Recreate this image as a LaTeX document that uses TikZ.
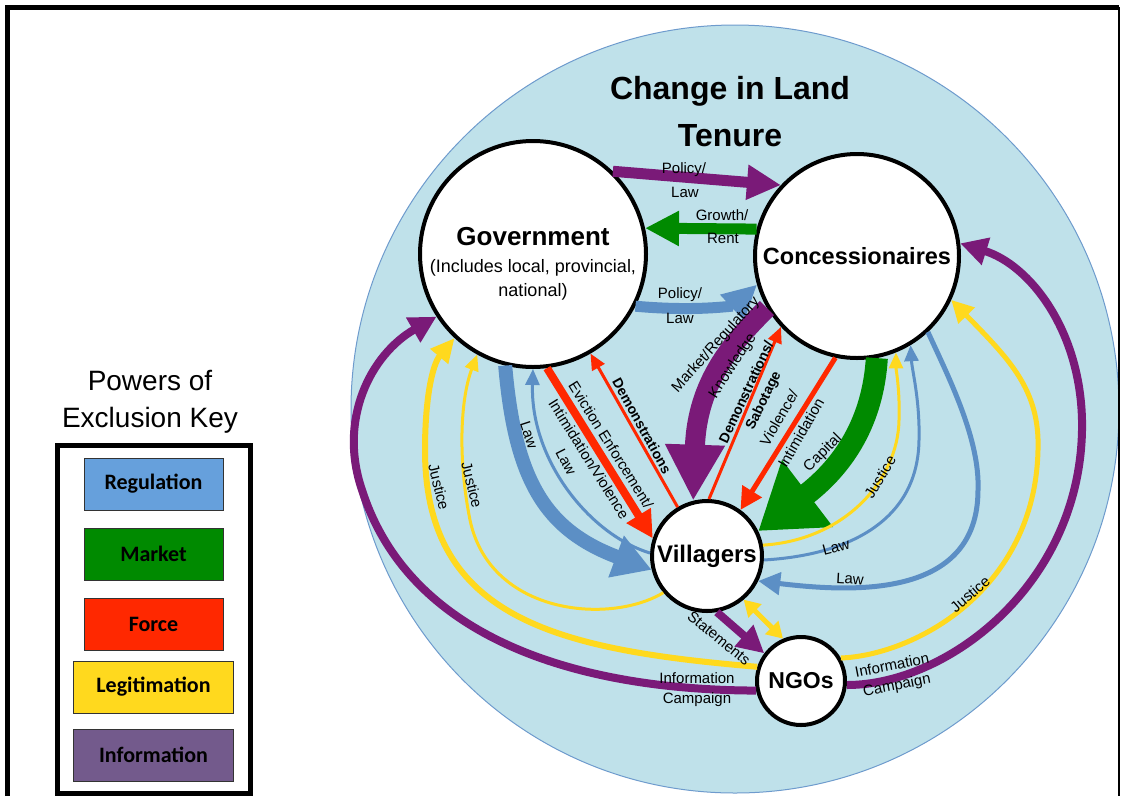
\documentclass[tikz,border=0pt]{standalone}
\usepackage{fontspec}
\setmainfont{Liberation Sans}
\newfontfamily\keyfont{Carlito}
\usetikzlibrary{arrows.meta, positioning, fit}
\usepackage{xcolor}

\definecolor{landblue}{RGB}{191,225,234}
\definecolor{landedge}{RGB}{110,155,205}
\definecolor{regblue}{RGB}{92,143,197}
\definecolor{keyblue}{RGB}{102,160,220}
\definecolor{marketgreen}{RGB}{0,138,0}
\definecolor{forcered}{RGB}{255,40,0}
\definecolor{legityellow}{RGB}{255,217,30}
\definecolor{infopurple}{RGB}{122,26,120}
\definecolor{keypurple}{RGB}{115,90,140}

\begin{document}
\begin{tikzpicture}[x=1pt, y=-1pt,
                actor/.style={circle, draw=black, line width=4pt, fill=white, inner sep=0pt, align=center},
                keybox/.style={rectangle, draw=black!80, line width=1pt, minimum width=139pt, minimum height=52pt, font=\keyfont\bfseries\fontsize{22}{22}\selectfont},
                lbl/.style={inner sep=0pt, font=\fontsize{15}{15}\selectfont},
                lblb/.style={inner sep=0pt, font=\bfseries\fontsize{14}{14}\selectfont},
                thinflow/.style={line width=3pt, -{Triangle[width=14pt,length=16pt]}},
                midflow/.style={line width=5pt, -{Triangle[width=22pt,length=22pt]}},
                wideflow/.style={line width=8pt, -{Triangle[width=27pt,length=27pt]}},
                broadflow/.style={line width=11pt, -{Triangle[width=33pt,length=34pt]}}]

            \useasboundingbox (0,0) rectangle (1122,796);
            \node[circle, fill=landblue, draw=landedge, line width=1pt, minimum size=768pt, inner sep=0pt] (land) at (735,409) {};
            \draw[line width=5pt] (7,796) -- (7,7) -- (1119,7);
            \draw[line width=1.5pt] (1119,7) -- (1119,796);

            \node[align=center, font=\bfseries\fontsize{32}{47}\selectfont] (title) at (730,112) {Change in Land\\Tenure};

            \node[actor, minimum size=226pt, font=\fontsize{18}{24}\selectfont] (gov) at (533,254) {{\bfseries\fontsize{26}{30}\selectfont\rule{0pt}{37pt}Government}\\[3pt](Includes local, provincial,\\national)};
            \node[actor, minimum size=204pt, font=\bfseries\fontsize{23.5}{28}\selectfont] (conc) at (857,256) {Concessionaires};
            \node[actor, minimum size=110pt, font=\bfseries\fontsize{24}{28}\selectfont] (vil) at (707,556) {Villagers};
            \node[actor, minimum size=88pt, font=\bfseries\fontsize{23}{28}\selectfont] (ngo) at (801,681) {NGOs};

            % Legend
            \node[align=center, font=\fontsize{28}{37}\selectfont] (keytitle) at (150,402) {Powers of\\Exclusion Key};
            \node[keybox, fill=keyblue] (reg) at (153.5,484) {Regulation};
            \node[keybox, fill=marketgreen, below=17pt of reg] (market) {Market};
            \node[keybox, fill=forcered, below=17pt of market] (force) {Force};
            \node[keybox, fill=legityellow, minimum width=160pt, below=10pt of force] (legit) {Legitimation};
            \node[keybox, fill=keypurple, minimum width=160pt, below=15pt of legit] (info) {Information};
            \node[draw, line width=5pt, inner xsep=16pt, inner ysep=12pt, fit=(reg) (legit) (info)] (keyframe) {};

            \draw[broadflow, infopurple] (gov.46) -- (conc.137);
            \draw[broadflow, marketgreen] (conc.165) -- (gov.13);
            \draw[broadflow, regblue] (gov.-27) .. controls (700,312) and (735,305) .. (conc.196);
            \draw[infopurple, line width=20pt, -{Triangle[width=56pt,length=56pt]}] (conc.210) .. controls (735,340) and (697,380) .. (vil.104);
            \draw[marketgreen, line width=22pt, -{Triangle[width=80pt,length=62pt]}] (conc.281) .. controls (873,420) and (845,465) .. (vil.26);
            \draw[forcered, thinflow] (vil.88) -- (conc.223);
            \draw[forcered, midflow] (conc.258) -- (vil.54);
            \draw[forcered, wideflow] (gov.277) -- (vil.162);
            \draw[forcered, thinflow] (vil.121) -- (gov.300);
            \draw[regblue, line width=14pt, -{Triangle[width=42pt,length=38pt]}] (gov.256) .. controls (515,480) and (545,530) .. (vil.194);
            \draw[regblue, thinflow] (vil.177) .. controls (590,535) and (530,460) .. (gov.270);
            \draw[regblue, midflow] (conc.313) .. controls (950,380) and (980,440) .. (978,490) .. controls (978,600) and (850,592) .. (vil.334);
            \draw[regblue, thinflow] (vil.356) .. controls (850,555) and (918,520) .. (919,440) .. controls (920,400) and (912,370) .. (conc.301);
            \draw[legityellow, line width=6pt, -{Triangle[width=22pt,length=24pt]}] (ngo.162) .. controls (560,650) and (425,620) .. (425,450) .. controls (425,400) and (432,365) .. (gov.227);
            \draw[legityellow, thinflow] (vil.220) .. controls (610,625) and (490,615) .. (470,520) .. controls (458,460) and (460,400) .. (gov.241);
            \draw[legityellow, midflow] (ngo.30) .. controls (915,655) and (1035,590) .. (1038,450) .. controls (1040,390) and (1010,360) .. (conc.335);
            \draw[legityellow, thinflow] (vil.11) .. controls (845,540) and (898,480) .. (899,420) .. controls (900,390) and (896,370) .. (conc.292);
            \draw[legityellow, line width=5pt, {Triangle[width=18pt,length=16pt]}-{Triangle[width=18pt,length=16pt]}] (vil.310) -- (ngo.113);
            \draw[infopurple, wideflow] (ngo.192) .. controls (580,690) and (410,640) .. (362,490) .. controls (338,420) and (370,355) .. (gov.213);
            \draw[infopurple, wideflow] (ngo.355) .. controls (950,685) and (1085,580) .. (1082,420) .. controls (1080,330) and (1030,265) .. (conc.7);
            \draw[infopurple, wideflow] (vil.280) -- (ngo.143);

            % Labels
            \node[lbl] (lpolA) at (684,170) {Policy/};
            \node[lbl] (llawA) at (685,192) {Law};
            \node[lbl] (lgrowth) at (722,215) {Growth/};
            \node[lbl] (lrent) at (723,238) {Rent};
            \node[lbl] (lpolB) at (680,295) {Policy/};
            \node[lbl] (llawB) at (680,318) {Law};
            \node[lbl, rotate=48] (lmarket) at (716,345) {Market/Regulatory};
            \node[lbl, rotate=57] (lknow) at (733,366) {Knowledge};
            \node[lblb, rotate=65] (ldemoB) at (746,392) {Demonstrations/};
            \node[lblb, rotate=64] (lsabo) at (764,401) {Sabotage};
            \node[lbl, rotate=60] (lviol) at (779,418) {Violence/};
            \node[lbl, rotate=60] (lintimB) at (801,433) {Intimidation};
            \node[lbl, rotate=45] (lcap) at (823,453) {Capital};
            \node[lbl, rotate=-58] (levict) at (611,445) {Eviction Enforcement/};
            \node[lbl, rotate=-58] (lintimA) at (589,459) {Intimidation/Violence};
            \node[lblb, rotate=-61] (ldemoA) at (642,426) {Demonstrations};
            \node[lbl, rotate=-72] (llawC) at (529,435) {Law};
            \node[lbl, rotate=-63] (llawD) at (566,462) {Law};
            \node[lbl, rotate=-76] (ljusA) at (439,487) {Justice};
            \node[lbl, rotate=-76] (ljusB) at (472,485) {Justice};
            \node[lbl, rotate=59] (ljusC) at (880,477) {Justice};
            \node[lbl, rotate=15] (llawE) at (836,547) {Law};
            \node[lbl, rotate=-3] (llawF) at (850,579) {Law};
            \node[lbl, rotate=41] (ljusD) at (970,594) {Justice};
            \node[lbl, rotate=-39] (lstate) at (719,638) {Statements};
            \node[lbl] (linfoA) at (697,678) {Information};
            \node[lbl] (lcampA) at (697,700) {Campaign};
            \node[lbl, rotate=11] (linfoB) at (892,665) {Information};
            \node[lbl, rotate=11] (lcampB) at (897,686) {Campaign};

        \end{tikzpicture}
\end{document}
